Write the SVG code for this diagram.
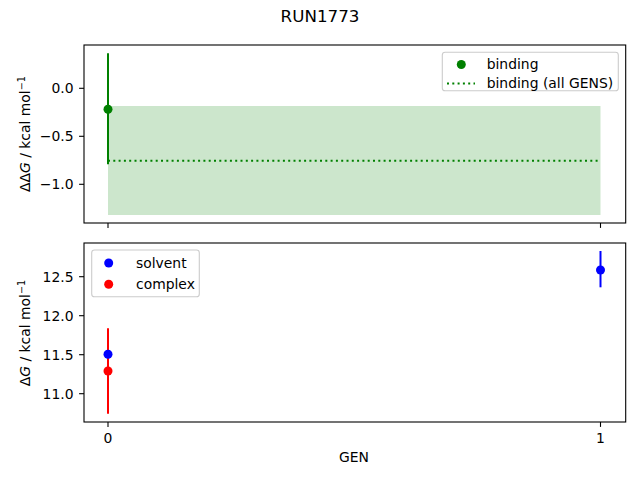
<svg xmlns="http://www.w3.org/2000/svg" width="640" height="480" viewBox="0 0 640 480">
<style>
text{font-family:"DejaVu Sans",sans-serif;fill:#000}
.t{font-size:13.9px}
.yt{font-size:13.9px;text-anchor:end}
.xt{font-size:13.9px;text-anchor:middle}
.frame{fill:none;stroke:#000;stroke-width:1.1}
.tick{stroke:#000;stroke-width:1.1}
.leg{fill:#fff;fill-opacity:0.8;stroke:#ccc;stroke-width:1.1}
</style>
<rect width="640" height="480" fill="#fff"/>
<text x="320" y="21.5" font-size="16.7" text-anchor="middle">RUN1773</text>

<g id="top-axes">
<rect x="108" y="106" width="492.5" height="109" fill="#008000" fill-opacity="0.2"/>
<line x1="108" y1="160.7" x2="600.5" y2="160.7" stroke="#008000" stroke-width="2" stroke-dasharray="2,3.3"/>
<line x1="108" y1="53.3" x2="108" y2="164.3" stroke="#008000" stroke-width="2"/>
<circle cx="108" cy="109.3" r="4.5" fill="#008000"/>
<rect class="frame" x="84" y="45" width="541.7" height="178"/>
<g class="tick">
<line x1="84" y1="88.3" x2="79.1" y2="88.3"/>
<line x1="84" y1="136.3" x2="79.1" y2="136.3"/>
<line x1="84" y1="184.3" x2="79.1" y2="184.3"/>
<line x1="108" y1="223" x2="108" y2="227.9"/>
<line x1="600.5" y1="223" x2="600.5" y2="227.9"/>
</g>
<text class="yt" x="73.5" y="93.3">0.0</text>
<text class="yt" x="73.5" y="141.3">−0.5</text>
<text class="yt" x="73.5" y="189.3">−1.0</text>
<text class="t" transform="translate(30,134) rotate(-90)" text-anchor="middle">ΔΔ<tspan font-style="italic">G</tspan> / kcal mol<tspan font-size="9.7" dy="-5">−1</tspan></text>
<g id="legend-top">
<rect class="leg" x="442.3" y="52.3" width="176" height="38.4" rx="2.8"/>
<circle cx="461.3" cy="64.5" r="4.5" fill="#008000"/>
<line x1="447" y1="83.5" x2="475" y2="83.5" stroke="#008000" stroke-width="2" stroke-dasharray="2,3.3"/>
<text class="t" x="486.7" y="69.3">binding</text>
<text class="t" x="486.7" y="88.3">binding (all GENS)</text>
</g>
</g>

<g id="bottom-axes">
<line x1="108" y1="328.3" x2="108" y2="413.7" stroke="#ff0000" stroke-width="2"/>
<circle cx="108" cy="354.3" r="4.5" fill="#0000ff"/>
<circle cx="108" cy="371" r="4.5" fill="#ff0000"/>
<line x1="600.5" y1="251" x2="600.5" y2="287.3" stroke="#0000ff" stroke-width="2"/>
<circle cx="600.5" cy="270" r="4.5" fill="#0000ff"/>
<rect class="frame" x="84" y="243" width="541.7" height="179"/>
<g class="tick">
<line x1="84" y1="276.7" x2="79.1" y2="276.7"/>
<line x1="84" y1="315.7" x2="79.1" y2="315.7"/>
<line x1="84" y1="354.7" x2="79.1" y2="354.7"/>
<line x1="84" y1="393.7" x2="79.1" y2="393.7"/>
<line x1="108" y1="422" x2="108" y2="426.9"/>
<line x1="600.5" y1="422" x2="600.5" y2="426.9"/>
</g>
<text class="yt" x="73.5" y="281.7">12.5</text>
<text class="yt" x="73.5" y="320.7">12.0</text>
<text class="yt" x="73.5" y="359.7">11.5</text>
<text class="yt" x="73.5" y="398.7">11.0</text>
<text class="xt" x="108" y="442.5">0</text>
<text class="xt" x="600.5" y="442.5">1</text>
<text class="xt" x="354" y="461.7">GEN</text>
<text class="t" transform="translate(30,333) rotate(-90)" text-anchor="middle">Δ<tspan font-style="italic">G</tspan> / kcal mol<tspan font-size="9.7" dy="-5">−1</tspan></text>
<g id="legend-bottom">
<rect class="leg" x="91.7" y="250" width="107.6" height="46.7" rx="2.8"/>
<circle cx="108.7" cy="263" r="4.5" fill="#0000ff"/>
<circle cx="108.7" cy="284.3" r="4.5" fill="#ff0000"/>
<text class="t" x="136" y="267.8">solvent</text>
<text class="t" x="136" y="289">complex</text>
</g>
</g>
</svg>
